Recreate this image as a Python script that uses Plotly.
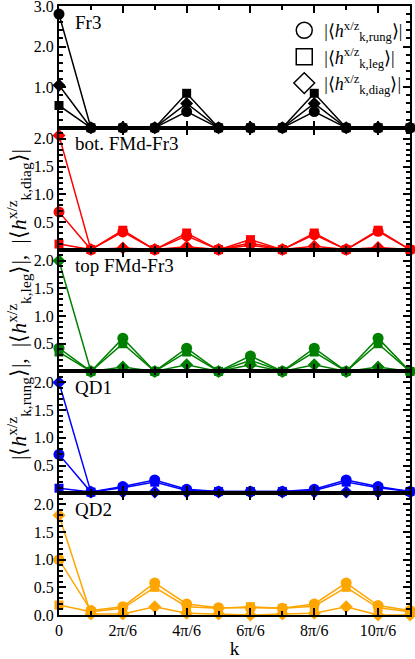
import plotly.graph_objects as go
from plotly.subplots import make_subplots

k = list(range(12))

# Fr3 (black)
fr3_rung = [2.8, 0, 0, 0, 0.4, 0, 0, 0, 0.4, 0, 0, 0]
fr3_leg = [0.55, 0, 0, 0, 0.85, 0, 0, 0, 0.85, 0, 0, 0]
fr3_diag = [1.05, 0, 0, 0, 0.6, 0, 0, 0, 0.6, 0, 0, 0]

# bot. FMd-Fr3 (red)
bot_rung = [0.68, 0, 0.32, 0, 0.25, 0, 0.12, 0, 0.27, 0, 0.33, 0]
bot_leg = [0.1, 0, 0.35, 0, 0.3, 0, 0.18, 0, 0.3, 0, 0.35, 0]
bot_diag = [2.06, 0, 0.03, 0, 0.05, 0, 0.08, 0, 0.06, 0, 0.04, 0]

# top FMd-Fr3 (green)
top_rung = [0.42, 0, 0.6, 0, 0.42, 0, 0.28, 0, 0.42, 0, 0.6, 0]
top_leg = [0.35, 0, 0.5, 0, 0.35, 0, 0.2, 0, 0.35, 0, 0.5, 0]
top_diag = [2.0, 0, 0.08, 0, 0.12, 0, 0.12, 0, 0.12, 0, 0.08, 0]

# QD1 (blue)
qd1_rung = [0.7, 0.02, 0.12, 0.24, 0.07, 0.03, 0.03, 0.03, 0.07, 0.24, 0.12, 0.03]
qd1_leg = [0.09, 0.02, 0.1, 0.2, 0.05, 0.03, 0.03, 0.03, 0.05, 0.2, 0.1, 0.03]
qd1_diag = [2.0, 0.02, 0.02, 0.02, 0.02, 0.02, 0.02, 0.02, 0.02, 0.02, 0.02, 0.02]

# QD2 (orange)
qd2_rung = [1.0, 0.08, 0.15, 0.58, 0.2, 0.13, 0.13, 0.12, 0.2, 0.58, 0.17, 0.08]
qd2_leg = [0.18, 0.06, 0.12, 0.5, 0.15, 0.12, 0.15, 0.12, 0.16, 0.5, 0.13, 0.06]
qd2_diag = [1.8, 0.02, 0.02, 0.15, 0.03, 0.02, 0.0, 0.02, 0.03, 0.15, 0.0, 0.0]

panels = [
    ("Fr3", "black", fr3_rung, fr3_leg, fr3_diag),
    ("bot. FMd-Fr3", "red", bot_rung, bot_leg, bot_diag),
    ("top FMd-Fr3", "green", top_rung, top_leg, top_diag),
    ("QD1", "blue", qd1_rung, qd1_leg, qd1_diag),
    ("QD2", "orange", qd2_rung, qd2_leg, qd2_diag),
]

xtick_vals = [0, 2, 4, 6, 8, 10]
xtick_text = ["0", "2π/6", "4π/6", "6π/6", "8π/6", "10π/6"]

font = "Liberation Serif, Times New Roman, serif"

fig = make_subplots(rows=5, cols=1, shared_xaxes=True, vertical_spacing=0)

for i, (name, col, rung, leg, diag) in enumerate(panels):
    row = i + 1
    for vals, sym, sz in [(rung, "circle", 11), (leg, "square", 9), (diag, "diamond", 10)]:
        fig.add_trace(go.Scatter(
            x=k, y=vals, mode="lines+markers", showlegend=False, cliponaxis=False,
            line=dict(color=col, width=1.5),
            marker=dict(symbol=sym, size=sz, color=col),
        ), row=row, col=1)
    fig.add_annotation(text=name, x=0.04, y=0.97, xref="x domain", yref="y domain" if row == 1 else f"y{row} domain",
                       xanchor="left", yanchor="top", showarrow=False,
                       font=dict(family=font, size=19, color="black"))

    if row == 1:
        yr, tv, minor_dt = [0, 3.0], [1.0, 2.0, 3.0], 0.2
    elif row == 5:
        yr, tv, minor_dt = [0, 2.2], [0.0, 0.5, 1.0, 1.5, 2.0], 0.1
    else:
        yr, tv, minor_dt = [0, 2.2], [0.5, 1.0, 1.5, 2.0], 0.1
    fig.update_yaxes(range=yr, tickvals=tv, ticktext=[f"{v:.1f}" for v in tv],
                     ticks="inside", ticklen=7, tickwidth=1.5, tickcolor="black",
                     minor=dict(dtick=minor_dt, ticks="inside", ticklen=4, tickcolor="black", tick0=0),
                     showline=True, linecolor="black", linewidth=2, mirror="ticks",
                     showgrid=False, zeroline=False, automargin=False, ticklabeloverflow="allow",
                     tickfont=dict(family=font, size=16, color="black"),
                     row=row, col=1)
    fig.update_xaxes(range=[0, 11], tickvals=xtick_vals, ticktext=xtick_text,
                     ticks="inside", ticklen=7, tickwidth=1.5, tickcolor="black",
                     minor=dict(dtick=1, ticks="inside", ticklen=4, tickcolor="black", tick0=0),
                     showline=True, linecolor="black", linewidth=2, mirror="ticks",
                     showgrid=False, zeroline=False, automargin=False, ticklabeloverflow="allow",
                     tickfont=dict(family=font, size=16, color="black"),
                     row=row, col=1)

fig.update_xaxes(title=dict(text="k", font=dict(family=font, size=19, color="black"), standoff=0), row=5, col=1)

# legend entries (open markers)
labels = ["rung", "leg", "diag"]
for lab, sym in zip(labels, ["circle-open", "square-open", "diamond-open"]):
    fig.add_trace(go.Scatter(
        x=[None], y=[None], mode="markers", name=f"|⟨<i>h</i><sup>x/z</sup><sub>k,{lab}</sub>⟩|",
        marker=dict(symbol=sym, size=16, color="black", line=dict(width=1.5, color="black")),
    ), row=1, col=1)

fig.add_annotation(
    text="|⟨<i>h</i><sup>x/z</sup><sub>k,rung</sub>⟩|,  |⟨<i>h</i><sup>x/z</sup><sub>k,leg</sub>⟩|,  |⟨<i>h</i><sup>x/z</sup><sub>k,diag</sub>⟩|",
    x=-0.115, y=0.51, xref="paper", yref="paper", textangle=-90, showarrow=False,
    xanchor="center", yanchor="middle", font=dict(family=font, size=22, color="black"))

fig.update_layout(
    width=415, height=659,
    margin=dict(l=59, r=5, t=6, b=44),
    plot_bgcolor="white", paper_bgcolor="white",
    font=dict(family=font, color="black"),
    showlegend=True,
    legend=dict(x=0.995, y=0.99, xanchor="right", yanchor="top", bgcolor="rgba(0,0,0,0)",
                font=dict(family=font, size=18, color="black"), itemsizing="trace",
                tracegroupgap=0),
)

fig.write_html("out.html", config={"displayModeBar": False},
               post_script="document.body.style.margin='0';")
